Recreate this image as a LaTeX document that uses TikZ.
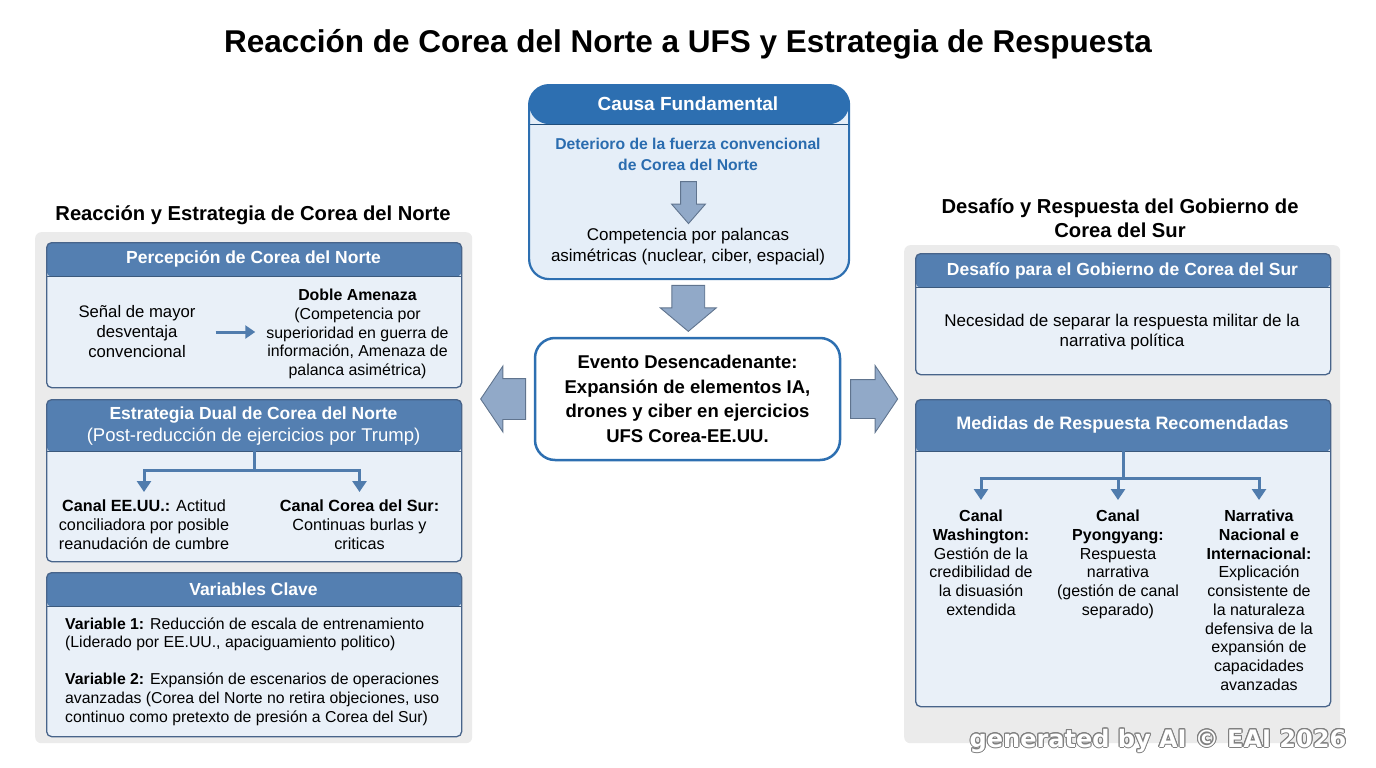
\documentclass[tikz,border=0pt]{standalone}
\usepackage{fontspec}
\setmainfont{Liberation Sans}
\newfontfamily\markfont{DejaVu Sans}
\usepackage{contour}
\contourlength{1pt}
\usetikzlibrary{shapes.arrows,arrows.meta,calc,positioning}

\definecolor{headc}{RGB}{84,127,177}
\definecolor{edgec}{RGB}{72,100,138}
\definecolor{bodyc}{RGB}{233,240,248}
\definecolor{panelc}{RGB}{235,235,235}
\definecolor{topc}{RGB}{45,111,177}
\definecolor{topbody}{RGB}{229,238,248}
\definecolor{bluetxt}{RGB}{42,108,175}
\definecolor{linkc}{RGB}{80,124,173}
\definecolor{arrowc}{RGB}{145,169,200}
\definecolor{arrowedge}{RGB}{96,116,142}

\newcommand\fsz[2]{\fontsize{#1}{#2}\selectfont}

\tikzset{
  panel/.style={fill=panelc, rounded corners=6pt, anchor=north west, inner sep=0pt},
  card/.style={draw=edgec, line width=1.3pt, fill=bodyc, rounded corners=5pt, anchor=north west, inner sep=0pt},
  head/.style 2 args={path picture={
    \fill[#2] (path picture bounding box.north west) rectangle ([yshift=-#1]path picture bounding box.north east);
    \draw[#2!70!black, line width=1pt] ([yshift=-#1]path picture bounding box.north west) -- ([yshift=-#1]path picture bounding box.north east);}},
  hdtxt/.style={text=white, font=\bfseries\fsz{17.5}{21}, align=center, inner sep=0pt},
  txt/.style={font=\fsz{16}{18.7}, align=center, inner sep=0pt},
  bigarrow/.style={single arrow, draw=arrowedge, fill=arrowc, line width=0.9pt, inner xsep=0pt},
  link/.style={draw=linkc, line width=3pt, -{Triangle[length=11pt,width=14pt]}},
}

\begin{document}
\begin{tikzpicture}[x=1pt,y=-1pt]
  \useasboundingbox (0,0) rectangle (1376,768);

  \node[font=\bfseries\fsz{31.5}{36}] (title) at (688,44) {Reacción de Corea del Norte a UFS y Estrategia de Respuesta};

  \node[panel, minimum width=437pt, minimum height=511pt] (lpanel) at (35,232) {};
  \node[panel, minimum width=436pt, minimum height=498pt] (rpanel) at (904,245) {};
  \node[font=\bfseries\fsz{20.2}{24}] (lhead) at (253,215) {Reacción y Estrategia de Corea del Norte};
  \node[font=\bfseries\fsz{20.2}{24}, align=center] (rhead) at (1120,218) {Desafío y Respuesta del Gobierno de\\Corea del Sur};

  \node[card, draw=topc, line width=2.2pt, fill=topbody, rounded corners=20pt, head={39pt}{topc}, minimum width=320pt, minimum height=194pt] (cause) at (528,84) {};
  \node[hdtxt, font=\bfseries\fsz{19}{22}] (causehd) at (688,104) {Causa Fundamental};
  \node[txt, text=bluetxt, font=\bfseries\fsz{15.7}{21}] (deter) at (688,154.5) {Deterioro de la fuerza convencional\\de Corea del Norte};
  \node[bigarrow, rotate=270, inner ysep=7.5pt, minimum height=42pt, minimum width=33pt, single arrow head extend=9pt, single arrow tip angle=82] (smallarr) at (688.5,198) {};
  \node[txt, font=\fsz{17}{21}] (compet) at (688,246.5) {Competencia por palancas\\asimétricas (nuclear, ciber, espacial)};

  \node[draw=topc, line width=2.5pt, fill=white, rounded corners=20pt, minimum width=305pt, minimum height=122pt, align=center, font=\bfseries\fsz{18.5}{24.5}, inner sep=0pt] (event) at (687.5,399) {Evento Desencadenante:\\Expansión de elementos IA,\\drones y ciber en ejercicios\\UFS Corea-EE.UU.};

  \node[bigarrow, rotate=270, inner ysep=16pt, minimum height=46pt, minimum width=55pt, single arrow head extend=11.5pt, single arrow tip angle=100] (downarr) at ($(cause.south)!.5!(event.north)+(0,-7)$) {};
  \node[bigarrow, rotate=180, inner ysep=20pt, minimum height=45pt, minimum width=65pt, single arrow head extend=12.5pt, single arrow tip angle=112] (leftarr) at ($(event.west -| lpanel.east)!.5!(event.west)+(7,0)$) {};
  \node[bigarrow, inner ysep=19pt, minimum height=47pt, minimum width=66pt, single arrow head extend=14pt, single arrow tip angle=112] (rightarr) at ($(event.east)!.5!(event.east -| rpanel.west)+(-5,0)$) {};

  \node[card, head={34pt}{headc}, minimum width=415pt, minimum height=145pt] (perc) at (46,242) {};
  \node[hdtxt] (perchd) at (253.5,259) {Percepción de Corea del Norte};
  \node[txt, font=\fsz{16.7}{20}] (senal) at (137,332) {Señal de mayor\\desventaja\\convencional};
  \node[txt, font=\fsz{15.9}{18.7}] (doble) at (357.5,334) {\textbf{Doble Amenaza}\\(Competencia por\\superioridad en guerra de\\información, Amenaza de\\palanca asimétrica)};
  \draw[link, -{Triangle[length=10pt,width=13pt]}, shorten <=20pt, shorten >=11pt] (senal.east) -- (senal.east -| doble.west);

  \node[card, head={52pt}{headc}, minimum width=415pt, minimum height=162pt] (dual) at (46,399) {};
  \node[hdtxt, font=\bfseries\fsz{17.5}{22}] (dualhd) at (253.5,426) {Estrategia Dual de Corea del Norte\\{\mdseries\fsz{18.5}{22}(Post-reducción de ejercicios por Trump)}};
  \node[txt, font=\fsz{16.2}{19}, anchor=north] (canalus) at (144,500) {\textbf{Canal EE.UU.:} Actitud\\conciliadora por posible\\reanudación de cumbre};
  \node[txt, font=\fsz{16.2}{19}, anchor=north] (canalsur) at (359.5,500) {\textbf{Canal Corea del Sur:}\\Continuas burlas y\\criticas};
  \draw[link, shorten >=8pt] ([yshift=-52pt]dual.north) -- ++(0,19) -| (canalus.north);
  \draw[link, shorten >=8pt] ([yshift=-52pt]dual.north) -- ++(0,19) -| (canalsur.north);

  \node[card, head={34pt}{headc}, minimum width=415pt, minimum height=164pt] (vars) at (46,572) {};
  \node[hdtxt] (varshd) at (253.5,589) {Variables Clave};
  \node[txt, font=\fsz{15.8}{18.7}, align=left, anchor=west] (vartxt) at (65,671.5) {\textbf{Variable 1:} Reducción de escala de entrenamiento\\(Liderado por EE.UU., apaciguamiento politico)\\[18.5pt]\textbf{Variable 2:} Expansión de escenarios de operaciones\\avanzadas (Corea del Norte no retira objeciones, uso\\continuo como pretexto de presión a Corea del Sur)};

  \node[card, head={34pt}{headc}, minimum width=415pt, minimum height=121pt] (chal) at (915,253) {};
  \node[hdtxt] (chalhd) at (1122.5,271) {Desafío para el Gobierno de Corea del Sur};
  \node[txt, font=\fsz{17}{20}] (need) at (1122,332) {Necesidad de separar la respuesta militar de la\\narrativa política};

  \node[card, head={52pt}{headc}, minimum width=415pt, minimum height=307pt] (resp) at (915,399) {};
  \node[hdtxt, font=\bfseries\fsz{18}{22}] (resphd) at (1122.5,425) {Medidas de Respuesta Recomendadas};
  \node[txt, anchor=north] (wash) at (981,510) {\textbf{Canal}\\\textbf{Washington:}\\Gestión de la\\credibilidad de\\la disuasión\\extendida};
  \node[txt, anchor=north] (pyong) at (1118,510) {\textbf{Canal}\\\textbf{Pyongyang:}\\Respuesta\\narrativa\\(gestión de canal\\separado)};
  \node[txt, anchor=north] (narr) at (1259,510) {\textbf{Narrativa}\\\textbf{Nacional e}\\\textbf{Internacional:}\\Explicación\\consistente de\\la naturaleza\\defensiva de la\\expansión de\\capacidades\\avanzadas};
  \foreach \c in {wash,pyong,narr}
    \draw[link, shorten >=10pt] ([yshift=-52pt]resp.north) -- ++(0,27) -| (\c.north);

  \node[text=white, font=\markfont\bfseries\fsz{24}{28}] (mark) at (1158,741) {\contour{gray}{generated by AI © EAI 2026}};
\end{tikzpicture}
\end{document}
